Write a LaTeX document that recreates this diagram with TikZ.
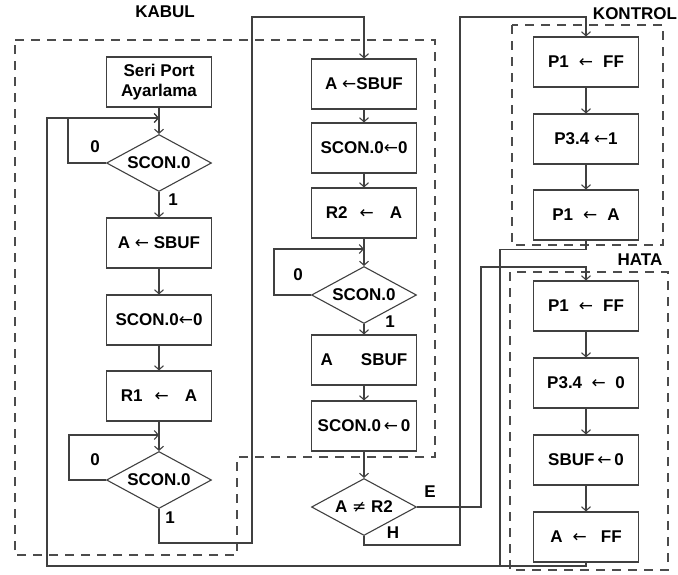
\documentclass[tikz,border=0pt]{standalone}
\usepackage{fontspec}
\setmainfont{Liberation Sans}
\newfontfamily\arrowfont{DejaVu Sans}
\usetikzlibrary{arrows.meta,shapes.geometric}

\newcommand{\tarrow}{{\arrowfont\mdseries ←}}
\newcommand{\tneq}{{\arrowfont\mdseries ≠}}

\begin{document}
\begin{tikzpicture}[x=1pt,y=-1pt,
  box/.style={draw=black!75, line width=1.1pt, minimum width=105pt, minimum height=50pt,
    inner sep=0pt, font=\fontsize{17}{20}\selectfont\bfseries},
  dec/.style={draw=black!75, line width=1.1pt, diamond, aspect=1.84, minimum width=105pt,
    minimum height=57pt, inner sep=0pt, font=\fontsize{17}{20}\selectfont\bfseries},
  flow/.style={black!75, line width=1.1pt, -{Straight Barb[length=4pt, width=9pt]}},
  wire/.style={black!75, line width=1.1pt},
  grp/.style={black!70, line width=1.2pt, dash pattern=on 9pt off 7pt},
  lbl/.style={font=\fontsize{17}{20}\selectfont\bfseries, inner sep=0pt}]
\useasboundingbox (0,0) rectangle (678,574);

% group frames
\draw[grp] (15,40) -- (435,40) -- (435,457) -- (237,457) -- (237,555) -- (15,555) -- cycle;
\draw[grp] (512,25) rectangle (663,245);
\draw[grp] (510,272) rectangle (668,570);
\node[lbl] (kabul) at (165,12) {KABUL};
\node[lbl] (kontrol) at (635,14) {KONTROL};
\node[lbl] (hata) at (640,260) {HATA};

% KABUL, left column
\node[box, align=center] (seri) at (159,82) {Seri Port\\Ayarlama};
\node[dec] (d1) at (159,163) {SCON.0};
\node[box] (a1) at (159,243) {A \tarrow{} SBUF};
\node[box] (s1) at (159,320) {SCON.0\tarrow0};
\node[box] (r1) at (159,396) {R1\hspace{12pt}\tarrow\hspace{16pt}A};
\node[dec] (d2) at (159,480) {SCON.0};

% KABUL, middle column
\node[box] (b1) at (364,84) {A \tarrow SBUF};
\node[box] (b2) at (364,148) {SCON.0\tarrow0};
\node[box] (b3) at (364,213) {R2\hspace{12pt}\tarrow\hspace{16pt}A};
\node[dec] (d3) at (364,295) {SCON.0};
\node[box] (b4) at (364,360) {A\hspace{28pt}SBUF};
\node[box] (b5) at (364,426) {SCON.0\,\tarrow\,0};
\node[dec] (d4) at (364,507) {A \tneq{} R2};

% KONTROL
\node[box] (k1) at (586,62) {P1\hspace{10pt}\tarrow\hspace{10pt}FF};
\node[box] (k2) at (586,139) {P3.4 \tarrow1};
\node[box] (k3) at (586,215) {P1\hspace{10pt}\tarrow\hspace{10pt}A};

% HATA
\node[box] (h1) at (586,306) {P1\hspace{10pt}\tarrow\hspace{10pt}FF};
\node[box] (h2) at (586,383) {P3.4 \ \tarrow\ \ 0};
\node[box] (h3) at (586,460) {SBUF\,\tarrow\,0};
\node[box] (h4) at (586,537) {A\hspace{10pt}\tarrow\hspace{14pt}FF};

% junctions
\coordinate (j1) at (159,118);
\coordinate (j2) at (159,435);
\coordinate (j3) at (364,249);
\coordinate (back) at (47,566);
\coordinate (turn1) at (252,543);
\coordinate (top1) at (364,17);
\coordinate (turnE) at (481,267);
\coordinate (turnH) at (460,545);
\coordinate (topH) at (586,17);
\coordinate (joinK) at (500,566);

% left column flow
\draw[flow] (seri) -- (d1);
\draw[flow] (d1.west) -- ++(-38,0) |- (j1);
\draw[flow] (d1) -- (a1);
\draw[flow] (a1) -- (s1);
\draw[flow] (s1) -- (r1);
\draw[flow] (r1) -- (d2);
\draw[flow] (d2.west) -- ++(-37,0) |- (j2);
\draw[flow] (d2.south) |- (turn1) |- (top1) -- (b1);
\node[lbl] (z1) at (95,147) {0};
\node[lbl] (o1) at (173,200) {1};
\node[lbl] (z2) at (95,460) {0};
\node[lbl] (o2) at (170,518) {1};

% middle column flow
\draw[flow] (b1) -- (b2);
\draw[flow] (b2) -- (b3);
\draw[flow] (b3) -- (d3);
\draw[flow] (d3.west) -- ++(-37,0) |- (j3);
\draw[flow] (d3) -- (b4);
\draw[flow] (b4) -- (b5);
\draw[flow] (b5) -- (d4);
\node[lbl] (z3) at (298,275) {0};
\node[lbl] (o3) at (390,322) {1};

% decision A<>R2
\draw[flow] (d4.east) -| (turnE) -| (h1);
\draw[flow] (d4.south) |- (turnH) |- (topH) -- (k1);
\node[lbl] (e) at (430,492) {E};
\node[lbl] (h) at (393,533) {H};

% KONTROL and HATA
\draw[flow] (k1) -- (k2);
\draw[flow] (k2) -- (k3);
\draw[flow] (h1) -- (h2);
\draw[flow] (h2) -- (h3);
\draw[flow] (h3) -- (h4);
\draw[wire] (k3.south) -- ++(0,9) -| (joinK);
\draw[flow] (h4.south) |- (back) |- (j1);
\end{tikzpicture}
\end{document}
